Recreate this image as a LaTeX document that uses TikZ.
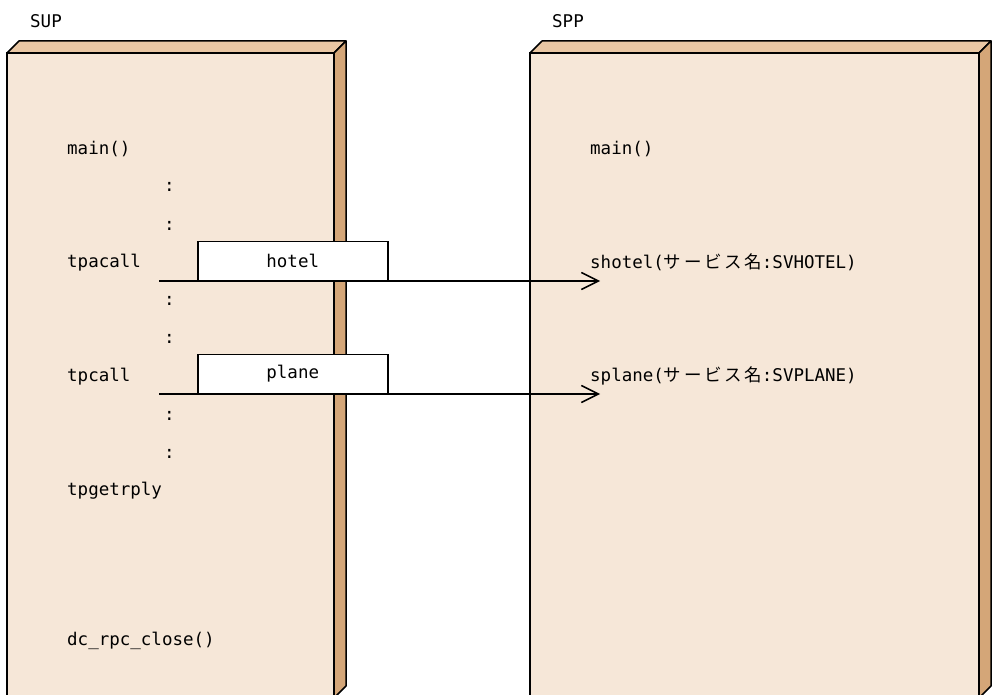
\documentclass[tikz,border=0pt]{standalone}
\usepackage{fontspec}
\setmainfont{DejaVu Sans Mono}
\newfontfamily\cjk[LetterSpace=15]{Noto Sans CJK JP}
\usepackage{tikz}
\usetikzlibrary{arrows.meta}
\usepackage{xcolor}
\definecolor{frontpeach}{RGB}{246,231,216}
\definecolor{toppeach}{RGB}{233,199,164}
\definecolor{sidetan}{RGB}{212,166,120}

\begin{document}
\begin{tikzpicture}[x=1pt, y=-1pt, >={Straight Barb[length=17pt,width=17pt]},
    front/.style={fill=frontpeach, draw=black, line width=1.5pt},
    topface/.style={fill=toppeach, draw=black, line width=1.5pt, line join=round},
    sideface/.style={fill=sidetan, draw=black, line width=1.5pt, line join=round},
    code/.style={font=\fontsize{17.5}{20}\selectfont, inner sep=0pt, anchor=base west},
    msgbox/.style={draw=black, fill=white, line width=1.5pt, minimum width=190pt,
        minimum height=39pt, inner sep=0pt, font=\fontsize{17.5}{20}\selectfont}]
        \useasboundingbox (0,0) rectangle (993,695);
        % SUP box
        \filldraw [front] (7,53) rectangle (334,705);
        \filldraw [topface] (7,53) -- (19,41) -- (346,41) -- (334,53) -- cycle;
        \filldraw [sideface] (334,53) -- (346,41) -- (346,686) -- (334,698) -- cycle;
        % SPP box
        \filldraw [front] (530,53) rectangle (979,705);
        \filldraw [topface] (530,53) -- (542,41) -- (991,41) -- (979,53) -- cycle;
        \filldraw [sideface] (979,53) -- (991,41) -- (991,686) -- (979,698) -- cycle;
        \node [code] (sup) at (30, 28) {SUP};
        \node [code] (spp) at (552, 28) {SPP};
        % client side
        \node [code] (mainL) at (67, 155) {main()};
        \node [code] (dotA) at (164, 192) {:};
        \node [code] (dotB) at (164, 230) {:};
        \node [code] (tpacall) at (67, 267) {tpacall};
        \node [code] (dotC) at (164, 305) {:};
        \node [code] (dotD) at (164, 343) {:};
        \node [code] (tpcall) at (67, 381) {tpcall};
        \node [code] (dotE) at (164, 420) {:};
        \node [code] (dotF) at (164, 458) {:};
        \node [code] (tpgetrply) at (67, 495) {tpgetrply};
        \node [code] (close) at (67, 645) {dc\_rpc\_close()};
        % server side
        \node [code] (mainR) at (590, 155) {main()};
        \node [code] (shotel) at (590, 268) {shotel({\cjk サービス名}:SVHOTEL)};
        \node [code] (splane) at (590, 381) {splane({\cjk サービス名}:SVPLANE)};
        % calls
        \coordinate (callA) at (159, 281);
        \coordinate (tipA) at (600, 281);
        \coordinate (callB) at (159, 394);
        \coordinate (tipB) at (600, 394);
        \draw [line width=1.5pt, ->] (callA) -- (tipA);
        \draw [line width=1.5pt, ->] (callB) -- (tipB);
        \node [msgbox, anchor=south west] (hotel) at (197, 281) {hotel};
        \node [msgbox, anchor=south west] (plane) at (197, 394) {plane};
\end{tikzpicture}
\end{document}
